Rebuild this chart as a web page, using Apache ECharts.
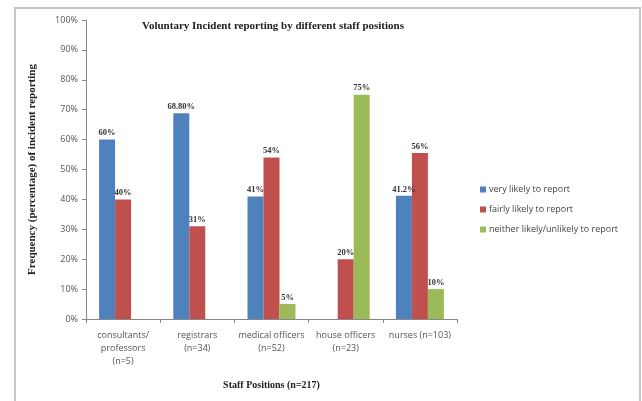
<!DOCTYPE html>
<html>
<head>
<meta charset="utf-8">
<script src="https://cdn.jsdelivr.net/npm/echarts@6/dist/echarts.min.js"></script>
<style>
  html, body { margin: 0; padding: 0; background: #fff; }
  #main { width: 642px; height: 401px; }
</style>
</head>
<body>
<div id="main"></div>
<script>
// staff positions
var categories = ['consultants/\nprofessors\n(n=5)', 'registrars\n(n=34)', 'medical officers\n(n=52)', 'house officers\n(n=23)', 'nurses (n=103)'];
var seriesNames = ['very likely to report', 'fairly likely to report', 'neither likely/unlikely to report'];
var veryLikely = [60, 68.8, 41, null, 41.2];
var fairlyLikely = [40, 31, 54, 20, 55.5];
var neitherLikely = [null, null, 5, 75, 10];
var veryLabels = ['60%', '68.80%', '41%', '', '41.2%'];
var fairlyLabels = ['40%', '31%', '54%', '20%', '56%'];
var neitherLabels = ['', '', '5%', '75%', '10%'];
var yTicks = [0, 10, 20, 30, 40, 50, 60, 70, 80, 90, 100];

var colors = ['#4F81BD', '#C0504D', '#9BBB59'];
var serif = '"Liberation Serif", "DejaVu Serif", serif';
var sans = '"Open Sans", "DejaVu Sans", sans-serif';

function makeSeries(name, data, labels, color) {
    return {
        name: name,
        type: 'bar',
        data: data,
        barWidth: 16,
        barGap: '0%',
        itemStyle: { color: color },
        label: {
            show: true,
            position: 'top',
            distance: 2,
            fontFamily: serif,
            fontWeight: 'bold',
            fontSize: 8.5,
            color: '#333',
            formatter: function (p) { return labels[p.dataIndex]; }
        }
    };
}

var myChart = echarts.init(document.getElementById('main'));
var option = {
    animation: false,
    backgroundColor: '#fff',
    graphic: [{
        type: 'rect',
        shape: { x: 15, y: 8, width: 625, height: 400 },
        style: { fill: 'none', stroke: '#c8c8c8', lineWidth: 2 },
        z: -1
    }],
    title: {
        text: 'Voluntary Incident reporting by different staff positions',
        left: 268,
        top: 16,
        textAlign: 'center',
        textStyle: { fontFamily: serif, fontWeight: 'bold', fontSize: 11, color: '#222' }
    },
    legend: {
        orient: 'vertical',
        left: 475,
        top: 180,
        itemWidth: 6,
        itemHeight: 6,
        itemGap: 11,
        icon: 'rect',
        data: seriesNames,
        textStyle: { fontFamily: sans, fontSize: 9, color: '#444', padding: [0, 0, 0, -2] }
    },
    grid: { left: 86, top: 20, right: 185, bottom: 82 },
    xAxis: {
        type: 'category',
        data: categories,
        name: 'Staff Positions (n=217)',
        nameLocation: 'middle',
        nameGap: 61,
        nameTextStyle: { fontFamily: serif, fontWeight: 'bold', fontSize: 10, color: '#222' },
        axisLine: { lineStyle: { color: '#888' } },
        axisTick: { show: true, length: 4, lineStyle: { color: '#888' } },
        axisLabel: { fontFamily: sans, fontSize: 9, color: '#555', lineHeight: 13, margin: 10, interval: 0 }
    },
    yAxis: {
        type: 'value',
        min: 0,
        max: 100,
        interval: 10,
        name: 'Frequency (percentage) of incident reporting',
        nameLocation: 'middle',
        nameGap: 48,
        nameTextStyle: { fontFamily: serif, fontWeight: 'bold', fontSize: 11, color: '#222' },
        axisLine: { show: true, lineStyle: { color: '#888' } },
        axisTick: { show: true, length: 4, lineStyle: { color: '#888' } },
        splitLine: { show: false },
        axisLabel: {
            fontFamily: sans, fontSize: 9, color: '#555', margin: 8,
            formatter: function (v) { return yTicks.indexOf(v) >= 0 ? v + '%' : ''; }
        }
    },
    series: [
        makeSeries(seriesNames[0], veryLikely, veryLabels, colors[0]),
        makeSeries(seriesNames[1], fairlyLikely, fairlyLabels, colors[1]),
        makeSeries(seriesNames[2], neitherLikely, neitherLabels, colors[2])
    ]
};
myChart.setOption(option);
</script>
</body>
</html>
